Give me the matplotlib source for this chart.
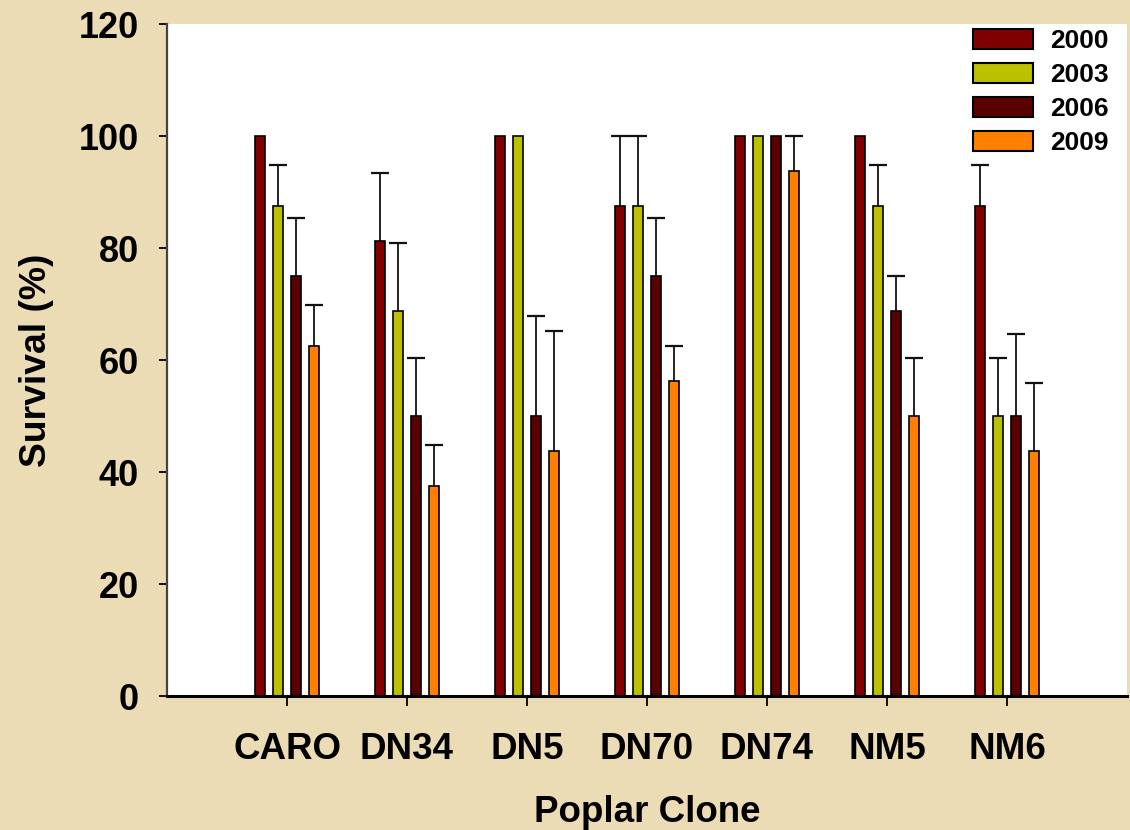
import numpy as np
import matplotlib.pyplot as plt
from matplotlib.patches import Patch

plt.rcParams['font.family'] = ['Liberation Sans', 'DejaVu Sans']
plt.rcParams['font.weight'] = 'bold'

clones = ["CARO", "DN34", "DN5", "DN70", "DN74", "NM5", "NM6"]
years = ["2000", "2003", "2006", "2009"]
colors = ["#7F0000", "#BBC000", "#5A0000", "#FF8000"]

surv_2000 = [100, 81.25, 100, 87.5, 100, 100, 87.5]
surv_2003 = [87.5, 68.75, 100, 87.5, 100, 87.5, 50]
surv_2006 = [75, 50, 50, 75, 100, 68.75, 50]
surv_2009 = [62.5, 37.5, 43.75, 56.25, 93.75, 50, 43.75]

# upper standard errors (0 = no bar drawn)
err_2000 = [0, 12.1, 0, 12.5, 0, 0, 7.3]
err_2003 = [7.3, 12.1, 0, 12.5, 0, 7.3, 10.3]
err_2006 = [10.3, 10.3, 17.9, 10.3, 0, 6.3, 14.6]
err_2009 = [7.3, 7.3, 21.4, 6.25, 6.25, 10.3, 12.1]

series = [surv_2000, surv_2003, surv_2006, surv_2009]
errors = [err_2000, err_2003, err_2006, err_2009]

fig = plt.figure(figsize=(11.3, 8.3), dpi=100, facecolor="#ECDCB6")
ax = fig.add_axes([0.1478, 0.1614, 0.8495, 0.8096])
ax.set_facecolor("white")

x = np.arange(len(clones))
pitch = 0.15
width = 0.09
for i, (vals, errs, col) in enumerate(zip(series, errors, colors)):
    pos = x + (i - 1.5) * pitch
    ax.bar(pos, vals, width=width, color=col, edgecolor="black", linewidth=1.2, zorder=2)
    vals = np.array(vals, dtype=float)
    errs = np.array(errs, dtype=float)
    m = errs > 0
    _, caps, _ = ax.errorbar(pos[m], vals[m], yerr=[np.zeros(m.sum()), errs[m]], fmt="none",
                             ecolor="#111111", elinewidth=1.3, capsize=6.8, capthick=1.6, zorder=1)
    caps[0].set_visible(False)  # only the upper cap

ax.set_xlim(-1, 7)
ax.set_ylim(0, 120)
ax.set_yticks(range(0, 121, 20))
ax.set_xticks(x)
ax.set_xticklabels(clones)
ax.spines["top"].set_visible(False)
ax.spines["right"].set_visible(False)
ax.spines["left"].set_linewidth(1.6)
ax.spines["left"].set_color("#444444")
ax.spines["bottom"].set_linewidth(2.2)
ax.tick_params(axis="y", direction="out", length=6, width=1.3, pad=14, labelsize=26)
ax.tick_params(axis="x", direction="out", length=7, width=1.3, pad=19, labelsize=26.5)
for lab in ax.get_xticklabels() + ax.get_yticklabels():
    lab.set_fontweight("bold")

ax.set_ylabel("Survival (%)", fontsize=26.8, fontweight="bold", labelpad=18)
ax.set_xlabel("Poplar Clone", fontsize=26.5, fontweight="bold", labelpad=20)

handles = [Patch(facecolor=c, edgecolor="black", linewidth=1.5) for c in colors]
leg = ax.legend(handles, years, loc="upper right", frameon=False, fontsize=19,
                handlelength=2.3, handleheight=0.75, handletextpad=0.65,
                labelspacing=0.38, borderaxespad=0.2, bbox_to_anchor=(0.998, 1.016))
for t in leg.get_texts():
    t.set_fontweight("bold")

fig.savefig("out.png", dpi=100, facecolor=fig.get_facecolor())
